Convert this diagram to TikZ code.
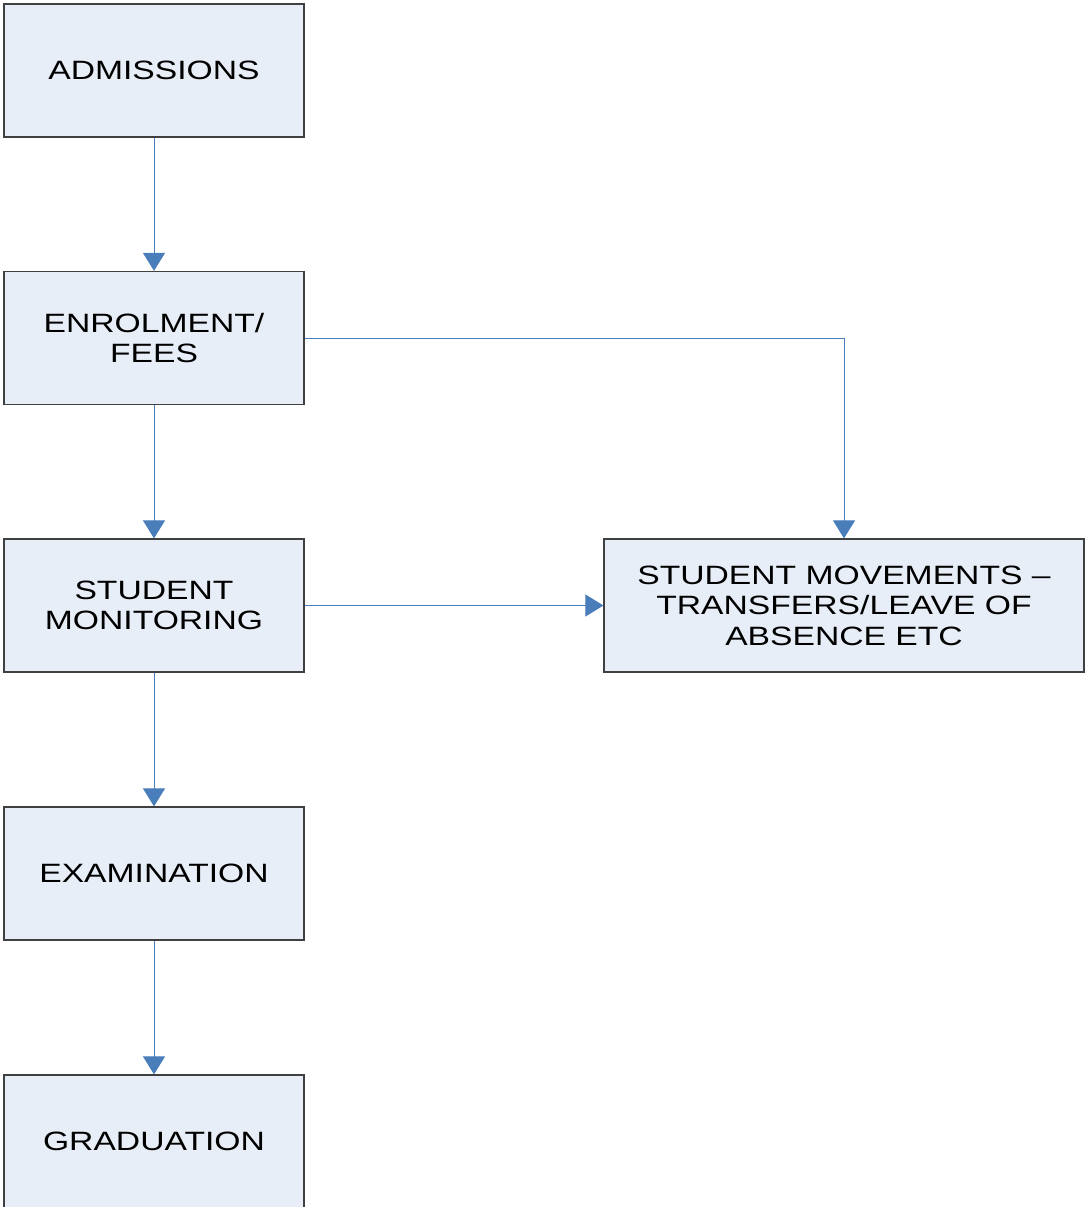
\documentclass[tikz,border=0pt]{standalone}
\usepackage{fontspec}
\setmainfont{Liberation Sans}
\newfontfamily\boxfont[FakeStretch=1.27]{Liberation Sans}
\usetikzlibrary{arrows.meta}
\definecolor{boxfill}{HTML}{E8EEF7}
\definecolor{boxline}{HTML}{404040}
\definecolor{conn}{HTML}{4A7EBB}
\definecolor{tipfill}{HTML}{4A7EBB}
\tikzset{
  procbox/.style={draw=boxline, fill=boxfill, line width=1.2pt, minimum width=300pt, minimum height=133pt,
    inner sep=0pt, align=center, font=\boxfont\fontsize{26.5}{30.5}\selectfont, text=black},
  wide/.style={minimum width=480pt},
  flow/.style={draw=conn, line width=1pt, -{Triangle[width=22pt,length=18pt,fill=tipfill]}}
}
\begin{document}
\begin{tikzpicture}[x=1pt,y=-1pt]
\useasboundingbox (0,0) rectangle (1085,1207);
\node[procbox] (adm) at (154,70.5) {ADMISSIONS};
\node[procbox] (enr) at (154,338) {ENROLMENT/\\FEES};
\node[procbox] (mon) at (154,605.5) {STUDENT\\MONITORING};
\node[procbox] (exa) at (154,873.5) {EXAMINATION};
\node[procbox] (gra) at (154,1141.5) {GRADUATION};
\node[procbox,wide] (mov) at (844,605.5) {STUDENT MOVEMENTS –\\TRANSFERS/LEAVE OF\\ABSENCE ETC};
\draw[flow] (adm) -- (enr);
\draw[flow] (enr) -- (mon);
\draw[flow] (mon) -- (exa);
\draw[flow] (exa) -- (gra);
\draw[flow] (enr.east) -| (mov.north);
\draw[flow] (mon.east) -- (mov.west);
\end{tikzpicture}
\end{document}
